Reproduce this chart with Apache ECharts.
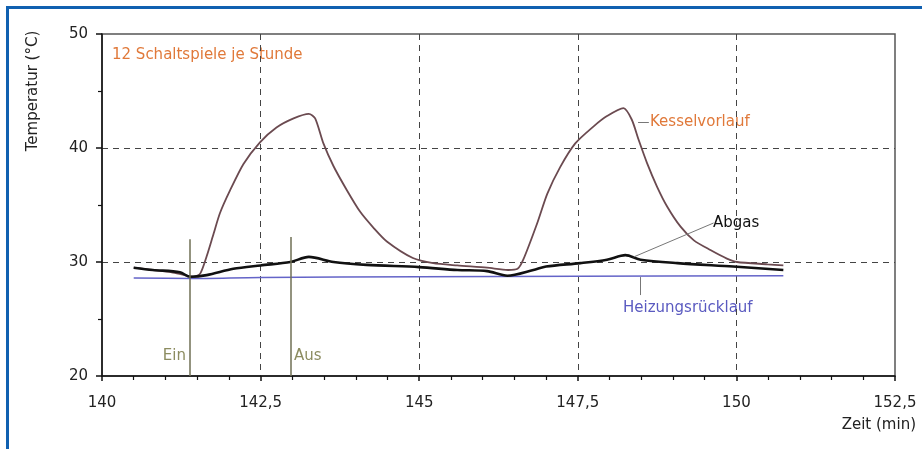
<!DOCTYPE html>
<html><head><meta charset="utf-8">
<script src="https://cdn.jsdelivr.net/npm/echarts@6/dist/echarts.min.js"></script>
<style>html,body{margin:0;padding:0;background:#fff}#c{width:922px;height:449px}</style>
</head><body><div id="c"></div>
<script>
// Kesselvorlauf (boiler flow) temperature
const kesselTime = [140.5,140.8,141.1,141.3,141.45,141.55,141.65,141.76,141.86,142.02,142.23,142.49,142.75,143.02,143.26,143.36,143.49,143.65,143.86,144.07,144.28,144.49,144.9,145.22,145.6,146.07,146.4,146.55,146.64,146.86,147.02,147.22,147.46,147.75,147.96,148.22,148.35,148.46,148.59,148.75,148.91,149.12,149.33,149.59,149.85,150.01,150.49,150.74];
const kesselTemp = [29.5,29.3,29.1,28.85,28.7,29.0,30.5,32.5,34.3,36.3,38.6,40.5,41.8,42.6,43.0,42.6,40.4,38.4,36.3,34.4,33.0,31.8,30.35,29.9,29.7,29.5,29.3,29.4,30.2,33.4,36.0,38.3,40.4,41.9,42.8,43.5,42.5,40.7,38.7,36.6,34.85,33.1,31.9,31.05,30.3,30.0,29.8,29.7];
// Abgas (flue gas) temperature
const abgasTime = [140.5,140.8,141.23,141.39,141.65,142.07,142.5,142.97,143.26,143.65,144.17,145.0,145.6,146.07,146.39,146.8,147.0,147.54,147.96,148.25,148.49,149.07,149.95,150.74];
const abgasTemp = [29.5,29.3,29.1,28.7,28.85,29.4,29.7,30.0,30.45,30.0,29.75,29.55,29.3,29.2,28.8,29.3,29.6,29.9,30.2,30.6,30.2,29.9,29.6,29.3];
// Heizungsrücklauf (heating return) temperature
const ruecklaufTime = [140.5,141.4,142.5,145.0,147.5,150.74];
const ruecklaufTemp = [28.6,28.55,28.65,28.7,28.75,28.8];
// burner switch events
const switchTimes = [141.39, 142.97];
const switchLabels = ['Ein', 'Aus'];
const switchTop = [32.0, 32.2];
// axis ticks
const xTicks = [140, 142.5, 145, 147.5, 150, 152.5];
const yTicks = [20, 30, 40, 50];

const F = 'DejaVu Sans';
const pair = (ts, vs) => ts.map((t, i) => [t, vs[i]]);
const chart = echarts.init(document.getElementById('c'));

const leaderStyle = {color:'#777', width:1, type:'solid'};
const option = {
  animation:false,
  backgroundColor:'#fff',
  grid:{left:102,right:27,top:34,bottom:73,show:true,borderColor:'#555',borderWidth:1.5,backgroundColor:'transparent'},
  xAxis:{type:'value',min:xTicks[0],max:xTicks[xTicks.length-1],interval:2.5,
    axisLine:{lineStyle:{color:'#111',width:1.5}},
    axisTick:{length:5,lineStyle:{color:'#111',width:1.5}},
    minorTick:{show:true,splitNumber:5,length:4,lineStyle:{color:'#111',width:1.2}},
    axisLabel:{margin:20,fontFamily:F,fontSize:15,color:'#222',formatter:v=>String(v).replace('.',',')},
    splitLine:{show:true,showMinLine:false,showMaxLine:false,lineStyle:{type:[6,5],color:'#444',width:1}}},
  yAxis:{type:'value',min:yTicks[0],max:yTicks[yTicks.length-1],interval:10,
    axisLine:{show:true,lineStyle:{color:'#111',width:1.5}},
    axisTick:{show:true,length:6,lineStyle:{color:'#111',width:1.5}},
    minorTick:{show:true,splitNumber:2,length:4,lineStyle:{color:'#111',width:1.2}},
    axisLabel:{margin:14,fontFamily:F,fontSize:15,color:'#222'},
    splitLine:{show:true,showMinLine:false,showMaxLine:false,lineStyle:{type:[6,5],color:'#444',width:1}}},
  series:[
    {name:'Heizungsrücklauf',type:'line',showSymbol:false,smooth:0.3,data:pair(ruecklaufTime,ruecklaufTemp),
     lineStyle:{color:'#6464c8',width:1.5},z:2},
    {name:'Kesselvorlauf',type:'line',showSymbol:false,smooth:0.25,data:pair(kesselTime,kesselTemp),
     lineStyle:{color:'#6b4a50',width:1.8},z:3},
    {name:'Abgas',type:'line',showSymbol:false,smooth:0.3,data:pair(abgasTime,abgasTemp),
     lineStyle:{color:'#111',width:2.6},z:4,
     markLine:{silent:true,animation:false,symbol:['none','none'],label:{show:false},
       data:[
         ...switchTimes.map((t,i)=>[{coord:[t,20],lineStyle:{color:'#6f6f55',width:1.5,type:'solid'}},{coord:[t,switchTop[i]]}]),
         [{coord:[148.45,42.28],lineStyle:leaderStyle},{coord:[148.62,42.28]}],
         [{coord:[148.38,30.44],lineStyle:leaderStyle},{coord:[149.64,33.42]}],
         [{coord:[148.49,28.68],lineStyle:leaderStyle},{coord:[148.49,27.1]}]
       ]}}
  ],
  graphic:[
    {type:'rect',shape:{x:6,y:6,width:916,height:3},style:{fill:'#1060b0'},silent:true},
    {type:'rect',shape:{x:6,y:6,width:3,height:443},style:{fill:'#1060b0'},silent:true},
    {type:'text',x:112,y:55,style:{text:'12 Schaltspiele je Stunde',font:'15px '+F,fill:'#e0793a',align:'left',verticalAlign:'middle'}},
    {type:'text',x:650,y:122,style:{text:'Kesselvorlauf',font:'15px '+F,fill:'#e0793a',align:'left',verticalAlign:'middle'}},
    {type:'text',x:713,y:223,style:{text:'Abgas',font:'15px '+F,fill:'#111',align:'left',verticalAlign:'middle'}},
    {type:'text',x:623,y:308,style:{text:'Heizungsrücklauf',font:'15px '+F,fill:'#5a5ac0',align:'left',verticalAlign:'middle'}},
    {type:'text',x:186,y:356,style:{text:switchLabels[0],font:'15px '+F,fill:'#8c8c60',align:'right',verticalAlign:'middle'}},
    {type:'text',x:294,y:356,style:{text:switchLabels[1],font:'15px '+F,fill:'#8c8c60',align:'left',verticalAlign:'middle'}},
    {type:'text',x:33,y:91,rotation:Math.PI/2,style:{text:'Temperatur (°C)',font:'15px '+F,fill:'#222',align:'center',verticalAlign:'middle'}},
    {type:'text',x:916,y:425,style:{text:'Zeit (min)',font:'15px '+F,fill:'#222',align:'right',verticalAlign:'middle'}}
  ]
};
chart.setOption(option);
</script></body></html>
